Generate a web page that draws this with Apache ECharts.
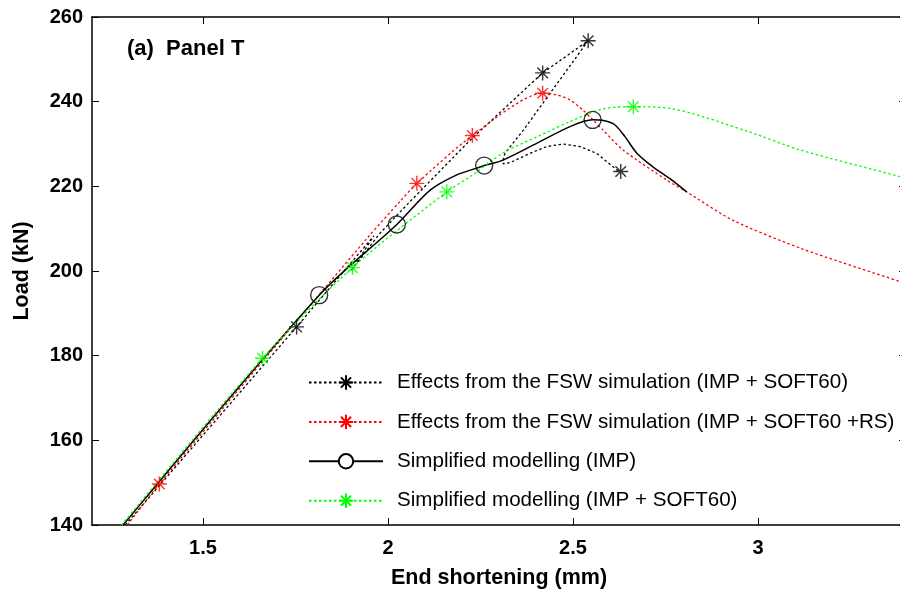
<!DOCTYPE html>
<html><head><meta charset="utf-8">
<script src="https://cdn.jsdelivr.net/npm/echarts@6/dist/echarts.min.js"></script>
<style>html,body{margin:0;padding:0;background:#fff}#c{width:900px;height:597px}</style>
</head><body><div id="c"></div>
<script>
const FONT = '"Liberation Sans", Arial, Helvetica, sans-serif';

// ---- tick labels ----
const xTicks = [1.5, 2, 2.5, 3];
const yTicks = [140, 160, 180, 200, 220, 240, 260];

// ---- series names ----
const names = [
  'Effects from the FSW simulation (IMP + SOFT60)',
  'Effects from the FSW simulation (IMP + SOFT60 +RS)',
  'Simplified modelling (IMP)',
  'Simplified modelling (IMP + SOFT60)'
];
const panelLabel = '(a)  Panel T';
const xName = 'End shortening (mm)';
const yName = 'Load (kN)';

// ---- FSW (IMP + SOFT60), black dotted ----
const fswX = [1.29, 1.753, 1.962, 1.900, 1.978, 2.064, 2.222, 2.418, 2.541, 2.366, 2.316, 2.310, 2.312, 2.330, 2.384, 2.429, 2.473, 2.519, 2.564, 2.618, 2.629];
const fswY = [140, 186.8, 208.3, 200.0, 208.9, 216.8, 230.9, 246.8, 254.4, 233.3, 227.8, 225.8, 225.3, 225.6, 227.8, 229.4, 230.0, 229.4, 227.8, 223.9, 223.5];
const fswMarkX = [1.753, 2.418, 2.541, 2.629];
const fswMarkY = [186.8, 246.8, 254.4, 223.5];

// ---- FSW (IMP + SOFT60 +RS), red dotted ----
const rsX = [1.296, 1.382, 1.947, 2.032, 2.078, 2.228, 2.418, 2.456, 2.492, 2.527, 2.554, 2.581, 2.635, 2.753, 2.807, 2.932, 3.114, 3.384, 3.4];
const rsY = [140, 149.7, 208.1, 216.4, 220.7, 232.0, 242.0, 241.6, 240.4, 238.0, 235.7, 233.3, 228.6, 221.5, 218.7, 212.0, 205.4, 197.5, 197.1];
const rsMarkX = [1.382, 2.078, 2.228, 2.418];
const rsMarkY = [149.7, 220.7, 232.0, 242.0];

// ---- Simplified (IMP), black solid ----
const impX = [1.284, 1.814, 2.024, 2.114, 2.186, 2.240, 2.260, 2.311, 2.403, 2.492, 2.553, 2.585, 2.612, 2.640, 2.672, 2.716, 2.762, 2.807];
const impY = [140, 194.3, 211.0, 219.1, 222.7, 224.3, 224.9, 226.2, 230.2, 234.1, 235.7, 235.5, 234.6, 231.8, 227.9, 224.6, 221.8, 218.7];
const impMarkX = [1.814, 2.024, 2.260, 2.553];
const impMarkY = [194.3, 211.0, 224.9, 235.7];

// ---- Simplified (IMP + SOFT60), green dotted ----
const softX = [1.280, 1.661, 1.904, 2.159, 2.222, 2.311, 2.403, 2.492, 2.581, 2.663, 2.762, 2.978, 3.114, 3.384, 3.4];
const softY = [140, 179.4, 200.8, 218.7, 222.3, 227.9, 231.7, 235.3, 238.3, 238.8, 238.4, 232.8, 228.6, 222.3, 221.9];
const softMarkX = [1.661, 1.904, 2.159, 2.663];
const softMarkY = [179.4, 200.8, 218.7, 238.8];

function pairs(xs, ys) { return xs.map((x, i) => [x, ys[i]]); }

const STAR = 'path://M10,0L10,20M0,10L20,10M2.93,2.93L17.07,17.07M2.93,17.07L17.07,2.93';
const DOT = [2.5, 2.5];

function lineSeries(name, xs, ys, color, dashed, symbol, smooth) {
  return {
    name: name, type: 'line', data: pairs(xs, ys), showSymbol: false,
    symbol: symbol, symbolSize: 15, animation: false, smooth: smooth,
    lineStyle: { color: color, width: dashed ? 1.3 : 1.5, type: dashed ? DOT : 'solid' },
    itemStyle: { color: color, borderColor: color, borderWidth: 1.4 },
    emphasis: { disabled: true }
  };
}
function markSeries(name, xs, ys, color, symbol, size) {
  return {
    name: name, type: 'scatter', data: pairs(xs, ys), symbol: symbol, symbolSize: size,
    animation: false, z: 5,
    itemStyle: { color: symbol === 'circle' ? 'transparent' : color, borderColor: color, borderWidth: 1.4 },
    emphasis: { disabled: true }
  };
}

const axisCommon = {
  axisLine: { show: true, lineStyle: { color: '#000', width: 1.5 } },
  axisTick: { show: true, inside: true, length: 7, lineStyle: { color: '#000', width: 1 } },
  splitLine: { show: false }
};

const chart = echarts.init(document.getElementById('c'), null, { renderer: 'canvas' });
chart.setOption({
  animation: false,
  backgroundColor: '#fff',
  textStyle: { fontFamily: FONT },
  grid: { left: 92, right: -6, top: 17, bottom: 72, containLabel: false, outerBoundsMode: 'none' },
  title: {
    text: panelLabel, left: 122, top: 33,
    textStyle: { fontFamily: FONT, fontSize: 22, fontWeight: 'bold', color: '#000' }
  },
  legend: {
    orient: 'vertical', left: 303, top: 367, itemWidth: 74, itemHeight: 18, itemGap: 18.4,
    data: names, selectedMode: false,
    textStyle: { fontFamily: FONT, fontSize: 20.6, color: '#000', padding: [0, 0, 0, 9], lineHeight: 20 }
  },
  xAxis: [
    Object.assign({}, axisCommon, {
      type: 'value', min: 1.2, max: 3.4, position: 'bottom',
      axisTick: Object.assign({}, axisCommon.axisTick, { customValues: xTicks }),
      axisLabel: { customValues: xTicks, margin: 13, fontSize: 20, fontWeight: 'bold', color: '#000', fontFamily: FONT },
      name: xName, nameLocation: 'middle', nameGap: 42,
      nameTextStyle: { fontSize: 21.5, fontWeight: 'bold', color: '#000', fontFamily: FONT }
    }),
    Object.assign({}, axisCommon, {
      type: 'value', min: 1.2, max: 3.4, position: 'top',
      axisTick: Object.assign({}, axisCommon.axisTick, { customValues: xTicks }),
      axisLabel: { show: false }
    })
  ],
  yAxis: [
    Object.assign({}, axisCommon, {
      type: 'value', min: 140, max: 260, interval: 20, position: 'left',
      axisLabel: { margin: 9, fontSize: 20, fontWeight: 'bold', color: '#000', fontFamily: FONT },
      name: yName, nameLocation: 'middle', nameGap: 59,
      nameTextStyle: { fontSize: 21.5, fontWeight: 'bold', color: '#000', fontFamily: FONT }
    }),
    Object.assign({}, axisCommon, {
      type: 'value', min: 140, max: 260, interval: 20, position: 'right',
      axisLabel: { show: false }
    })
  ],
  series: [
    lineSeries(names[0], fswX, fswY, '#000000', true, STAR, false),
    lineSeries(names[1], rsX, rsY, '#ff0000', true, STAR, 0.25),
    lineSeries(names[2], impX, impY, '#000000', false, 'emptyCircle', 0.3),
    lineSeries(names[3], softX, softY, '#00ff00', true, STAR, 0.3),
    markSeries('m0', fswMarkX, fswMarkY, '#000000', STAR, 15),
    markSeries('m1', rsMarkX, rsMarkY, '#ff0000', STAR, 15),
    markSeries('m2', impMarkX, impMarkY, '#000000', 'circle', 17),
    markSeries('m3', softMarkX, softMarkY, '#00ff00', STAR, 15)
  ]
});
</script>
</body></html>
